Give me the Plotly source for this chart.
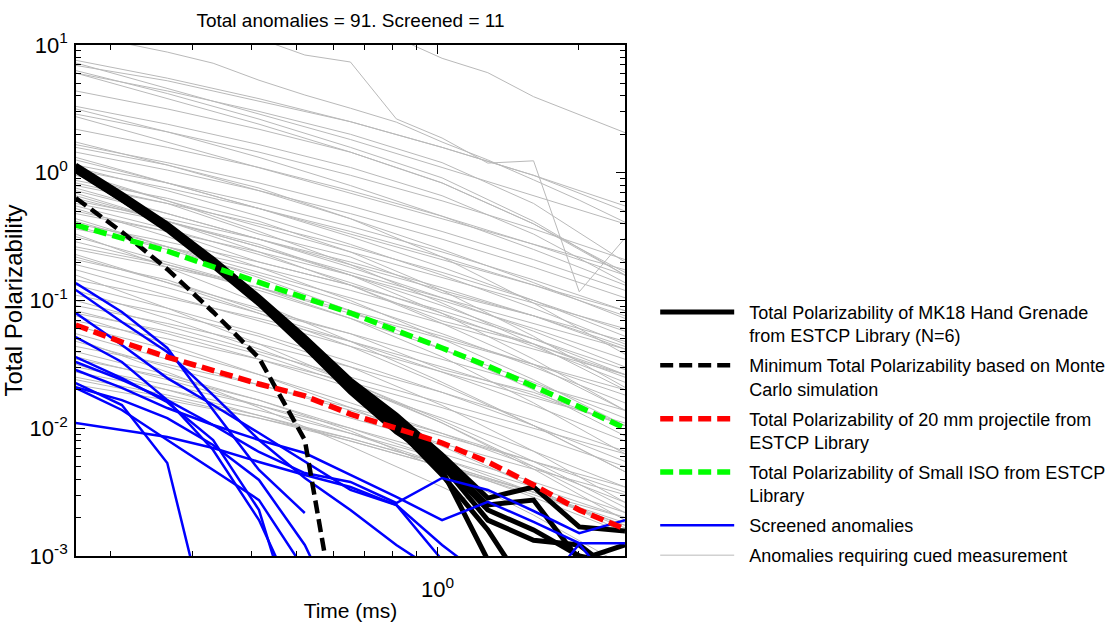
import plotly.graph_objects as go

# ---------------- data ----------------
time_ms = [0.169, 0.212, 0.265, 0.332, 0.416, 0.521, 0.652, 0.817, 1.023, 1.281, 1.604, 2.008, 2.514]
cued_time_ms = [0.169, 0.265, 0.416, 0.652, 1.023, 1.604, 2.514]

mk18_values = [
    [1.150, 0.682, 0.397, 0.211, 0.1065, 0.0518, 0.0239, 0.0127, 0.00618, 0.00284, 0.00347, 0.00169, 0.00157],
    [1.109, 0.658, 0.383, 0.204, 0.1027, 0.0491, 0.0222, 0.0116, 0.00564, 0.00251, 0.00274, 0.00093, 0.00122],
    [1.070, 0.634, 0.369, 0.197, 0.0991, 0.0465, 0.0207, 0.0106, 0.00516, 0.00191, 0.00133, 0.00122, 0.000649],
    [1.051, 0.623, 0.363, 0.193, 0.0973, 0.0448, 0.0199, 0.00969, 0.00471, 0.00093, 0.000316, 0.000153, 0.000107],
    [1.089, 0.646, 0.376, 0.200, 0.1009, 0.0473, 0.0214, 0.01005, 0.00431, 0.00160, 0.000453, 0.000316, 0.00022],
    [1.032, 0.612, 0.356, 0.186, 0.0939, 0.0432, 0.0192, 0.00935, 0.00544, 0.00229, 0.00160, 0.00100, 0.00085],
]
monte_carlo_min = [0.634, 0.344, 0.176, 0.0813, 0.0355, 0.00809, 0.000072]
projectile_20mm = [0.0643, 0.0473, 0.0361, 0.0281, 0.0222, 0.0179, 0.0129, 0.0100, 0.00767, 0.00545, 0.00360, 0.00229, 0.00163]
small_iso = [0.390, 0.308, 0.244, 0.183, 0.137, 0.105, 0.0798, 0.0587, 0.0425, 0.0307, 0.0214, 0.0147, 0.0100]

screened_values = [
    [0.137, 0.0813, 0.0425, 0.0139, 0.00471, 0.00217],
    [0.121, 0.0679, 0.0395, 0.0182, 0.00809, 0.00408, 0.00229, 0.00122, 0.00071],
    [0.0798, 0.0449, 0.0247, 0.0152, 0.00918, 0.00545, 0.00329, 0.00251, 0.00122, 0.000649, 0.000453, 0.00124, 0.000453],
    [0.0518, 0.0330, 0.0166, 0.00676, 0.00191, 0.000316],
    [0.0361, 0.0247, 0.0160, 0.00809, 0.00229, 0.000153],
    [0.0330, 0.0239, 0.0166, 0.0106, 0.00652, 0.00446, 0.00380, 0.00260, 0.00408, 0.00329, 0.00225, 0.00151, 0.00191],
    [0.0286, 0.0207, 0.0144, 0.0106, 0.00809, 0.00640, 0.00431, 0.00290, 0.00191, 0.00265, 0.00185, 0.00126, 0.00126],
    [0.0226, 0.0152, 0.00535, 0.000184],
    [0.0210, 0.0166, 0.0120, 0.00740, 0.00394, 0.00122, 0.00022],
    [0.0207, 0.0139, 0.00809, 0.00471, 0.00274, 0.000777],
    [0.0110, 0.00968, 0.00854, 0.00700, 0.00545, 0.00431, 0.00347, 0.00251, 0.00093],
]

# cued anomalies read at every gate (lines with sharp kinks)
cued_values_detailed = [
    [11.7, 10.4, 8.8, 7.2, 5.3, 4.06, 3.2, 2.49, 1.74, 1.26, 0.88, 0.61, 0.41],
    [20.6, 18.1, 15.7, 13.1, 11.2, 8.35, 7.36, 2.64, 1.87, 1.19, 1.24, 0.117, 0.308],
    [29.5, 26.0, 22.5, 19.5, 17.2, 15.1, 13.1, 11.4, 7.87, 6.07, 3.94, 2.83, 2.06],
]

# cued anomalies read at every second gate
cued_values = [
    [7.59, 5.50, 3.80, 2.51, 1.58, 0.955, 0.550],
    [7.24, 4.57, 2.88, 1.82, 1.10, 0.661, 0.398],
    [6.92, 5.25, 3.63, 2.51, 1.58, 0.955, 0.501],
    [6.31, 4.17, 2.63, 1.58, 0.912, 0.417, 0.158],
    [6.03, 4.37, 3.02, 2.00, 1.20, 0.575, 0.200],
    [6.03, 3.80, 2.40, 1.45, 0.832, 0.398, 0.166],
    [4.37, 3.16, 2.19, 1.45, 0.832, 0.398, 0.158],
    [3.31, 2.40, 1.66, 1.10, 0.661, 0.331, 0.138],
    [3.16, 2.09, 1.32, 0.794, 0.457, 0.251, 0.132],
    [2.88, 2.09, 1.45, 0.955, 0.603, 0.363, 0.209],
    [2.75, 1.74, 1.10, 0.692, 0.437, 0.275, 0.174],
    [2.19, 1.58, 1.10, 0.724, 0.457, 0.275, 0.158],
    [1.74, 1.15, 0.724, 0.437, 0.251, 0.138, 0.0724],
    [1.66, 1.20, 0.832, 0.550, 0.347, 0.209, 0.120],
    [1.58, 1.15, 0.759, 0.437, 0.219, 0.0955, 0.0380],
    [1.45, 1.05, 0.724, 0.479, 0.302, 0.182, 0.105],
    [1.32, 0.832, 0.525, 0.331, 0.209, 0.132, 0.0832],
    [1.26, 0.832, 0.525, 0.316, 0.182, 0.100, 0.0525],
    [1.15, 0.832, 0.575, 0.380, 0.240, 0.145, 0.0832],
    [1.10, 0.724, 0.457, 0.275, 0.158, 0.0871, 0.0457],
    [1.05, 0.759, 0.525, 0.347, 0.219, 0.132, 0.0759],
    [1.00, 0.603, 0.347, 0.191, 0.0955, 0.0457, 0.0200],
    [0.955, 0.603, 0.380, 0.240, 0.151, 0.0955, 0.0603],
    [0.871, 0.631, 0.417, 0.240, 0.120, 0.0525, 0.0209],
    [0.832, 0.575, 0.331, 0.219, 0.115, 0.0759, 0.0417],
    [0.794, 0.575, 0.398, 0.263, 0.166, 0.100, 0.0575],
    [0.724, 0.479, 0.302, 0.182, 0.105, 0.0575, 0.0302],
    [0.692, 0.417, 0.240, 0.132, 0.0661, 0.0316, 0.0138],
    [0.661, 0.417, 0.263, 0.166, 0.105, 0.0661, 0.0417],
    [0.603, 0.437, 0.302, 0.200, 0.126, 0.0759, 0.0437],
    [0.575, 0.417, 0.275, 0.158, 0.0794, 0.0347, 0.0138],
    [0.550, 0.363, 0.229, 0.138, 0.0794, 0.0437, 0.0229],
    [0.501, 0.347, 0.200, 0.132, 0.0692, 0.0457, 0.0251],
    [0.479, 0.347, 0.240, 0.158, 0.100, 0.0603, 0.0347],
    [0.437, 0.263, 0.151, 0.0832, 0.0417, 0.0200, 0.00871],
    [0.417, 0.263, 0.166, 0.105, 0.0661, 0.0417, 0.0263],
    [0.380, 0.251, 0.158, 0.0955, 0.0550, 0.0302, 0.0158],
    [0.363, 0.263, 0.182, 0.120, 0.0759, 0.0457, 0.0263],
    [0.331, 0.182, 0.0955, 0.0479, 0.0229, 0.0105, 0.00457],
    [0.316, 0.200, 0.126, 0.0794, 0.0501, 0.0316, 0.0200],
    [0.288, 0.191, 0.120, 0.0724, 0.0417, 0.0229, 0.0120],
    [0.263, 0.191, 0.126, 0.0724, 0.0363, 0.0158, 0.00631],
    [0.251, 0.182, 0.126, 0.0832, 0.0525, 0.0316, 0.0182],
    [0.229, 0.138, 0.0794, 0.0437, 0.0219, 0.0105, 0.00457],
    [0.209, 0.145, 0.0832, 0.0550, 0.0288, 0.0191, 0.0105],
    [0.191, 0.126, 0.0794, 0.0479, 0.0275, 0.0151, 0.00794],
    [0.174, 0.110, 0.0692, 0.0437, 0.0275, 0.0174, 0.0110],
    [0.158, 0.0871, 0.0457, 0.0229, 0.0110, 0.00501, 0.00219],
    [0.145, 0.105, 0.0724, 0.0479, 0.0302, 0.0182, 0.0105],
    [0.132, 0.0871, 0.0550, 0.0331, 0.0191, 0.0105, 0.00550],
    [0.120, 0.0724, 0.0417, 0.0229, 0.0115, 0.00550, 0.00240],
    [0.110, 0.0794, 0.0525, 0.0302, 0.0151, 0.00661, 0.00263],
    [0.100, 0.0631, 0.0398, 0.0251, 0.0158, 0.0100, 0.00631],
    [0.0912, 0.0661, 0.0457, 0.0302, 0.0191, 0.0115, 0.00661],
    [0.0832, 0.0550, 0.0347, 0.0209, 0.0120, 0.00661, 0.00347],
    [0.759, 0.479, 0.302, 0.191, 0.120, 0.0759, 0.0479],
    [0.398, 0.288, 0.200, 0.132, 0.0832, 0.0501, 0.0288],
    [0.631, 0.417, 0.263, 0.158, 0.0912, 0.0501, 0.0263],
    [0.219, 0.138, 0.0871, 0.0550, 0.0347, 0.0219, 0.0138],
    [0.525, 0.316, 0.182, 0.100, 0.0501, 0.0240, 0.0105],
    [0.0759, 0.0457, 0.0263, 0.0145, 0.00724, 0.00347, 0.00151],
    [0.0692, 0.0501, 0.0347, 0.0229, 0.0145, 0.00871, 0.00501],
    [0.0631, 0.0417, 0.0263, 0.0158, 0.00912, 0.00501, 0.00263],
    [0.0550, 0.0347, 0.0219, 0.0138, 0.00871, 0.00550, 0.00347],
    [0.0501, 0.0275, 0.0145, 0.00724, 0.00347, 0.00158, 0.000692],
    [0.0437, 0.0316, 0.0219, 0.0145, 0.00912, 0.00550, 0.00316],
    [0.0398, 0.0263, 0.0166, 0.0100, 0.00575, 0.00316, 0.00166],
    [0.0347, 0.0251, 0.0166, 0.00955, 0.00479, 0.00209, 0.000832],
    [0.0316, 0.0200, 0.0126, 0.00794, 0.00501, 0.00316, 0.00200],
    [0.0275, 0.0200, 0.0138, 0.00912, 0.00575, 0.00347, 0.00200],
    [0.0251, 0.0182, 0.0126, 0.00832, 0.00525, 0.00316, 0.00182],
    [0.0219, 0.0166, 0.0120, 0.00832, 0.00525, 0.00316, 0.00174],
    [0.0240, 0.0174, 0.0120, 0.00794, 0.00501, 0.00302, 0.00174],
    [0.0302, 0.0219, 0.0151, 0.0100, 0.00631, 0.00380, 0.00219],
    [0.0479, 0.0302, 0.0191, 0.0120, 0.00759, 0.00479, 0.00302],
    [0.0794, 0.0575, 0.0380, 0.0219, 0.0110, 0.00479, 0.00191],
    [0.0363, 0.0240, 0.0151, 0.00912, 0.00525, 0.00288, 0.00151],
]

title_text = "Total anomalies = 91. Screened = 11"
legend_lines = [
    ["Total Polarizability of MK18 Hand Grenade", "from ESTCP Library (N=6)"],
    ["Minimum Total Polarizability based on Monte", "Carlo simulation"],
    ["Total Polarizability of 20 mm projectile from", "ESTCP Library"],
    ["Total Polarizability of Small ISO from ESTCP", "Library"],
    ["Screened anomalies"],
    ["Anomalies requiring cued measurement"],
]
y_tick_values = [0.001, 0.01, 0.1, 1, 10]
y_tick_text = ["10<sup>-3</sup>", "10<sup>-2</sup>", "10<sup>-1</sup>", "10<sup>0</sup>", "10<sup>1</sup>"]
x_tick_values = [1]
x_tick_text = ["10<sup>0</sup>"]

# ---------------- figure ----------------
FONT = "Liberation Sans, Arial, Helvetica, sans-serif"
GREY = "#b9b9b9"
DASH = "13px,6px"
PAD = "&nbsp;&nbsp;"
legend_names = ["<br>".join(PAD + s for s in parts) for parts in legend_lines]

fig = go.Figure()

grey_lines = [(cued_time_ms, v) for v in cued_values] + [(time_ms, v) for v in cued_values_detailed]
for i, (tx, v) in enumerate(grey_lines):
    fig.add_trace(go.Scatter(
        x=tx[:len(v)], y=v, mode="lines", line=dict(color=GREY, width=1),
        name=legend_names[5], legendgroup="cued", showlegend=(i == 0), legendrank=6,
        hoverinfo="skip"))

for i, v in enumerate(mk18_values):
    fig.add_trace(go.Scatter(
        x=time_ms[:len(v)], y=v, mode="lines", line=dict(color="black", width=5),
        name=legend_names[0], legendgroup="mk18", showlegend=(i == 0), legendrank=1))

for i, v in enumerate(screened_values):
    fig.add_trace(go.Scatter(
        x=time_ms[:len(v)], y=v, mode="lines", line=dict(color="#0000ff", width=2.5),
        name=legend_names[4], legendgroup="screened", showlegend=(i == 0), legendrank=5))

fig.add_trace(go.Scatter(
    x=time_ms[:len(monte_carlo_min)], y=monte_carlo_min, mode="lines",
    line=dict(color="black", width=4.5, dash=DASH), name=legend_names[1],
    legendgroup="mc", legendrank=2))
fig.add_trace(go.Scatter(
    x=time_ms, y=projectile_20mm, mode="lines",
    line=dict(color="#ff0000", width=5.5, dash=DASH), name=legend_names[2],
    legendgroup="p20", legendrank=3))
fig.add_trace(go.Scatter(
    x=time_ms, y=small_iso, mode="lines",
    line=dict(color="#00ff00", width=5.5, dash=DASH), name=legend_names[3],
    legendgroup="iso", legendrank=4))

minor_y = [d * 10.0 ** e for e in range(-3, 1) for d in range(2, 10)]
minor_x = [d * 10.0 ** e for e in (-1, 0) for d in range(2, 10)]

axis_common = dict(
    type="log", showgrid=False, zeroline=False, showline=True, linecolor="black",
    linewidth=1.8, mirror="allticks", ticks="inside", ticklen=9, tickwidth=1,
    tickcolor="black", tickmode="array", automargin=False,
    tickfont=dict(family=FONT, size=22, color="black"),
)

fig.update_xaxes(
    **axis_common, range=[-0.7716, 0.4004], tickvals=x_tick_values, ticktext=x_tick_text,
    ticklabelstandoff=13,
    minor=dict(ticks="inside", ticklen=5, tickwidth=1, tickcolor="black", tickmode="array", tickvals=minor_x),
    title=dict(text="Time (ms)", font=dict(family=FONT, size=21, color="black"), standoff=2),
)
fig.update_yaxes(
    **axis_common, range=[-3, 1], tickvals=y_tick_values, ticktext=y_tick_text,
    ticklabelstandoff=2,
    minor=dict(ticks="inside", ticklen=5, tickwidth=1, tickcolor="black", tickmode="array", tickvals=minor_y),
    title=dict(text="Total Polarizability", font=dict(family=FONT, size=24, color="black"), standoff=0),
)

fig.update_layout(
    width=1115, height=627,
    margin=dict(l=76, r=490, t=45, b=71, autoexpand=False),
    paper_bgcolor="white", plot_bgcolor="white",
    font=dict(family=FONT, color="black"),
    title=dict(text=title_text, x=0.5, xref="paper", xanchor="center",
               y=1 - 20 / 627, yref="container", yanchor="middle",
               font=dict(family=FONT, size=19, color="black")),
    showlegend=True,
    legend=dict(x=1.055, y=0.513, xanchor="left", yanchor="top", xref="paper", yref="paper",
                font=dict(family=FONT, size=18, color="black"), itemwidth=74, valign="top",
                traceorder="grouped", tracegroupgap=3.5,
                bgcolor="rgba(0,0,0,0)", borderwidth=0),
)

fig.write_html("out.html")
